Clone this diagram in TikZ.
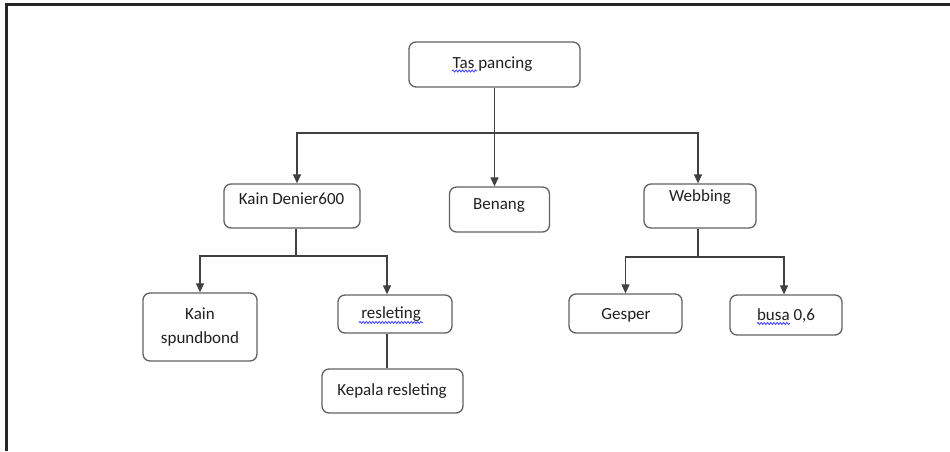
\documentclass[tikz,border=0pt]{standalone}
\usepackage{fontspec}
\setmainfont{Carlito}
\usetikzlibrary{arrows.meta,decorations.pathmorphing}
\begin{document}
\begin{tikzpicture}[x=1pt,y=-1pt,
  box/.style={draw=black!62,line width=1.3pt,rounded corners=7pt,inner sep=0pt},
  lbl/.style={anchor=base,inner sep=0pt,text=black!88,font=\fontsize{17}{22}\selectfont},
  conn/.style={draw=black!75,line width=1.2pt},
  arr/.style={conn,-{Triangle[width=8pt,length=9pt]}},
  squig/.style={draw=blue!70,line width=0.9pt,decorate,decoration={snake,amplitude=1pt,segment length=3.2pt}},
  frame/.style={draw=black!85,line width=2.5pt}]
\useasboundingbox (0,0) rectangle (950,451);
% outer frame (top and left edges)
\draw[frame] (950,4.5) -- (6.7,4.5) -- (6.7,451);
% boxes
\node[box,minimum width=171pt,minimum height=45pt] (tas) at (494.5,64.5) {};
\node[box,minimum width=136pt,minimum height=44pt] (kd)  at (292,206) {};
\node[box,minimum width=100pt,minimum height=45pt] (ben) at (499.5,209.5) {};
\node[box,minimum width=112pt,minimum height=44pt] (web) at (700,206) {};
\node[box,minimum width=114pt,minimum height=68pt] (spu) at (200,327) {};
\node[box,minimum width=114pt,minimum height=38pt] (res) at (395,314) {};
\node[box,minimum width=141pt,minimum height=44pt] (kep) at (392.5,391) {};
\node[box,minimum width=113pt,minimum height=39pt] (ges) at (625.5,313.5) {};
\node[box,minimum width=112pt,minimum height=40pt] (bus) at (786,315) {};
% texts
\node[lbl] (tast) at (492.5,68) {Tas pancing};
\node[lbl] (kdt)  at (291.6,204) {Kain Denier600};
\node[lbl] (bent) at (499,209) {Benang};
\node[lbl] (webt) at (700,201) {Webbing};
\node[lbl] (spt1) at (200,319) {Kain};
\node[lbl] (spt2) at (200,343) {spundbond};
\node[lbl] (rest) at (391,318) {resleting};
\node[lbl] (kept) at (392,395) {Kepala resleting};
\node[lbl] (gest) at (626,319) {Gesper};
\node[lbl] (bust) at (786,320) {busa 0,6};
% spelling marks
\draw[squig] (452,71) -- (477,71);
\draw[squig] (359,322.5) -- (423,322.5);
\draw[squig] (757,323.5) -- (790,323.5);
% junctions
\coordinate (j1) at (494.5,133);
\coordinate (j2) at (296,256);
\coordinate (j3) at (698,257);
% connectors
\draw[arr] (tas.south) -- (tas.south |- ben.north);
\draw[arr] (j1) -| ([xshift=5pt]kd.north);
\draw[arr] (j1) -| ([xshift=-2pt]web.north);
\draw[conn] (kd.south -| j2) -- (j2);
\draw[arr] (j2) -| (spu.north);
\draw[arr] (j2) -| ([xshift=-8pt]res.north);
\draw[conn] ([xshift=-8pt]res.south) -- ([xshift=-8pt]res.south |- kep.north);
\draw[conn] (web.south -| j3) -- (j3);
\draw[arr] (j3) -| (ges.north);
\draw[arr] (j3) -| ([xshift=-2pt]bus.north);
\end{tikzpicture}
\end{document}
